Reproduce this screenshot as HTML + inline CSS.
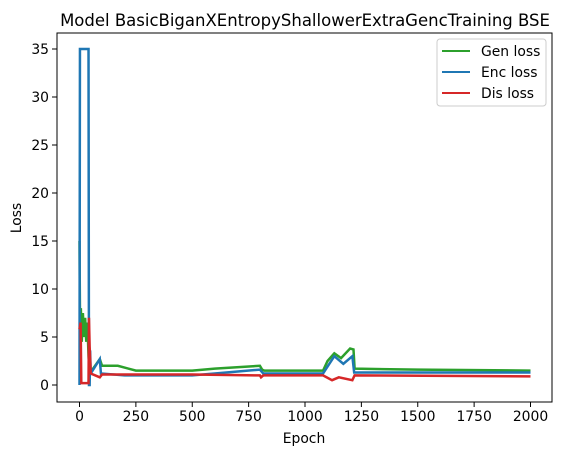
<!DOCTYPE html>
<html><head><meta charset="utf-8"><style>
body{margin:0;background:#fff;}
svg{display:block;font-family:"DejaVu Sans","Liberation Sans",sans-serif;}
</style></head><body>
<svg id="chart" width="562" height="455">
<text x="305" y="26" text-anchor="middle" font-size="16.5">Model BasicBiganXEntropyShallowerExtraGencTraining BSE</text>
<g id="plot"></g>
<rect x="57" y="33" width="495" height="369" fill="none" stroke="#000" stroke-width="1"/>
<g id="xticks"></g>
<g id="yticks"></g>
<text x="304" y="443" text-anchor="middle" font-size="13.9">Epoch</text>
<text x="21" y="218" text-anchor="middle" font-size="13.9" transform="rotate(-90 21 218)">Loss</text>
<g>
<rect x="437" y="39" width="109" height="67" rx="3" fill="#fff" stroke="#ccc"/>
<line x1="442" y1="51" x2="470" y2="51" stroke="#2ca02c" stroke-width="2"/>
<text x="481" y="56" font-size="13.9">Gen loss</text>
<line x1="442" y1="72" x2="470" y2="72" stroke="#1f77b4" stroke-width="2"/>
<text x="481" y="77" font-size="13.9">Enc loss</text>
<line x1="442" y1="93" x2="470" y2="93" stroke="#d62728" stroke-width="2"/>
<text x="481" y="98" font-size="13.9">Dis loss</text>
</g>
</svg>
<script>
const xTicks=[0,250,500,750,1000,1250,1500,1750,2000];
const yTicks=[0,5,10,15,20,25,30,35];
const genEpochs=[0,3,6,10,15,20,25,30,35,40,45,90,100,170,250,500,600,800,810,820,1080,1100,1130,1160,1200,1215,1220,1500,2000];
const genValues=[15,4,8,4.5,7.5,5,7,4.5,6.5,3,1.2,2.7,2.0,2.0,1.5,1.5,1.7,2.0,1.6,1.5,1.5,2.5,3.3,2.8,3.8,3.7,1.7,1.6,1.5];
const encEpochs=[0,2,40,42,45,47,50,90,95,200,500,600,800,815,1080,1130,1170,1210,1218,2000];
const encValues=[0,35,35,0,0,3.6,1.2,2.7,1.2,1.0,1.0,1.2,1.6,1.2,1.2,3.0,2.2,3.0,1.3,1.3];
const disEpochs=[0,5,8,40,42,45,50,90,100,500,800,805,815,1080,1120,1150,1210,1220,2000];
const disValues=[5.8,6.5,0.2,0.2,7,4,1.2,0.8,1.1,1.1,1.0,0.8,1.0,1.0,0.5,0.8,0.5,1.0,0.9];
const NS="http://www.w3.org/2000/svg";
function xs(v){return 79.5+v*0.2255;}
function ys(v){return 385-v*9.6;}
const plot=document.getElementById('plot');
function series(ex,vals,color,name){
  const p=document.createElementNS(NS,'polyline');
  p.setAttribute('points',ex.map((e,i)=>xs(e)+','+ys(vals[i])).join(' '));
  p.setAttribute('fill','none');p.setAttribute('stroke',color);p.setAttribute('stroke-width','2.5');
  
  
  plot.appendChild(p);
}
series(genEpochs,genValues,'#2ca02c','gen-loss-line');
series(encEpochs,encValues,'#1f77b4','enc-loss-line');
series(disEpochs,disValues,'#d62728','dis-loss-line');
const xg=document.getElementById('xticks');
xTicks.forEach(t=>{
  const l=document.createElementNS(NS,'line');
  l.setAttribute('x1',xs(t));l.setAttribute('x2',xs(t));l.setAttribute('y1',402);l.setAttribute('y2',407);l.setAttribute('stroke','#000');
  
  
  xg.appendChild(l);
  const tx=document.createElementNS(NS,'text');
  tx.setAttribute('x',xs(t));tx.setAttribute('y',421);tx.setAttribute('text-anchor','middle');tx.setAttribute('font-size','13.9');
  tx.textContent=t;
  
  
  xg.appendChild(tx);
});
const yg=document.getElementById('yticks');
yTicks.forEach(t=>{
  const l=document.createElementNS(NS,'line');
  l.setAttribute('x1',52);l.setAttribute('x2',57);l.setAttribute('y1',ys(t));l.setAttribute('y2',ys(t));l.setAttribute('stroke','#000');
  
  
  yg.appendChild(l);
  const tx=document.createElementNS(NS,'text');
  tx.setAttribute('x',49);tx.setAttribute('y',ys(t)+5);tx.setAttribute('text-anchor','end');tx.setAttribute('font-size','13.9');
  tx.textContent=t;
  
  
  yg.appendChild(tx);
});
</script>
</body></html>
